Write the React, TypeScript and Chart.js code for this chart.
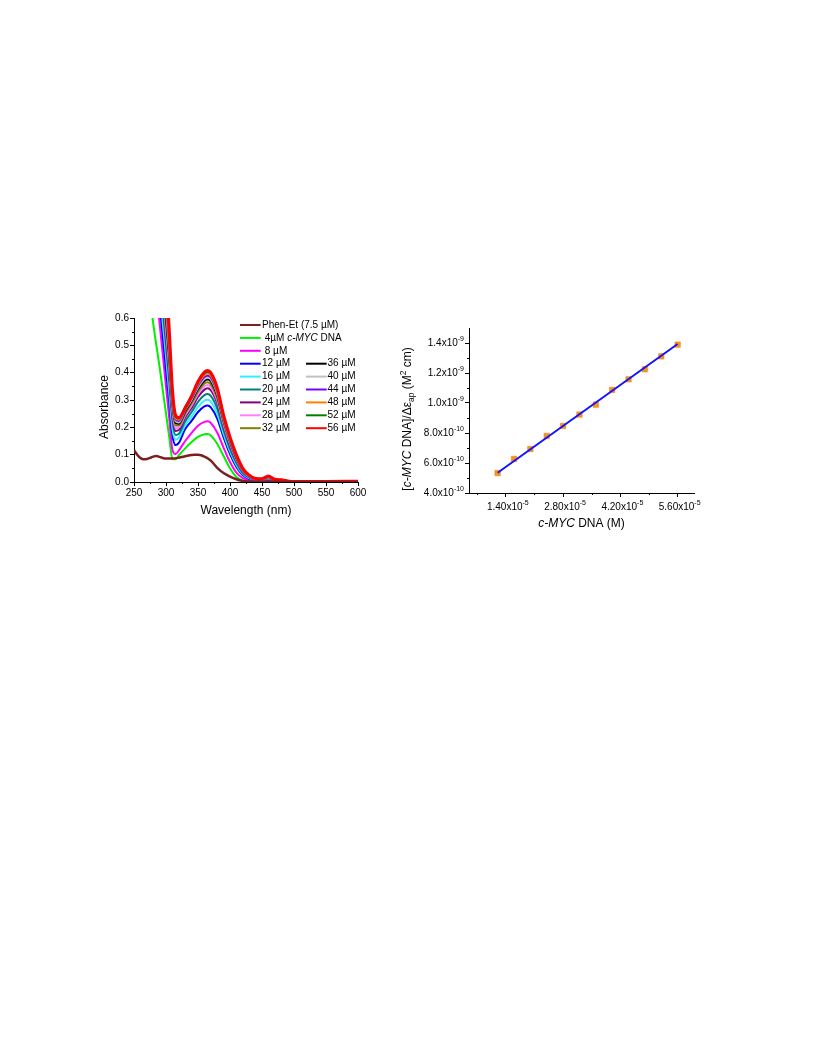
import React, { useEffect, useRef } from 'react';
import { Chart, registerables } from 'chart.js';

Chart.register(...registerables);

const FONT = '"Liberation Sans", Arial, Helvetica, sans-serif';

// ---------- Left panel: UV-Vis titration ----------
const phenWavelengths = [250, 255, 260, 265, 270, 275, 280, 285, 290, 295, 300, 310, 320, 330, 340, 345, 350, 355, 360, 365, 370, 380, 390, 400, 410, 420, 430, 450, 500, 600];
const phenAbs = [0.117, 0.1, 0.088, 0.083, 0.084, 0.088, 0.093, 0.095, 0.092, 0.088, 0.086, 0.086, 0.089, 0.094, 0.099, 0.1, 0.1, 0.098, 0.093, 0.087, 0.078, 0.052, 0.033, 0.02, 0.01, 0.004, 0.002, 0.001, 0, 0];

const dnaWavelengths = [270, 280, 290, 300, 305, 310, 315, 320, 330, 340, 350, 360, 365, 370, 380, 390, 400, 410, 420, 430, 440, 450, 460, 470, 480, 490, 500, 550, 600];
const abs4 = [0.77, 0.58, 0.42, 0.25, 0.165, 0.085, 0.083, 0.098, 0.123, 0.146, 0.165, 0.175, 0.176, 0.17, 0.14, 0.095, 0.05, 0.018, 0.005, 0.002, 0.001, 0.001, 0.002, 0, 0, 0, 0, 0, 0];
const abs8 = [1.0, 0.8, 0.58, 0.35, 0.235, 0.118, 0.102, 0.115, 0.15, 0.18, 0.206, 0.22, 0.222, 0.216, 0.181, 0.125, 0.073, 0.034, 0.014, 0.007, 0.003, 0.003, 0.006, 0.002, 0.002, 0.001, 0, 0, 0];
const abs12 = [1.2, 0.88, 0.65, 0.41, 0.295, 0.172, 0.135, 0.143, 0.194, 0.224, 0.256, 0.277, 0.28, 0.273, 0.232, 0.163, 0.102, 0.055, 0.025, 0.012, 0.006, 0.006, 0.01, 0.005, 0.004, 0.002, 0.001, 0, 0];
const abs16 = [1.25, 0.95, 0.7, 0.46, 0.33, 0.195, 0.155, 0.162, 0.208, 0.24, 0.275, 0.298, 0.301, 0.294, 0.25, 0.176, 0.112, 0.062, 0.029, 0.014, 0.007, 0.007, 0.012, 0.005, 0.004, 0.002, 0.001, 0.001, 0.001];
const abs20 = [1.3, 1.0, 0.76, 0.5, 0.37, 0.225, 0.172, 0.176, 0.222, 0.256, 0.293, 0.318, 0.322, 0.315, 0.269, 0.19, 0.122, 0.07, 0.033, 0.016, 0.008, 0.008, 0.014, 0.006, 0.005, 0.003, 0.001, 0.001, 0.001];
const abs24 = [1.35, 1.05, 0.79, 0.53, 0.4, 0.245, 0.187, 0.19, 0.236, 0.271, 0.311, 0.338, 0.343, 0.336, 0.288, 0.203, 0.133, 0.077, 0.037, 0.018, 0.009, 0.009, 0.015, 0.007, 0.006, 0.003, 0.001, 0.001, 0.001];
const abs28 = [1.38, 1.08, 0.81, 0.55, 0.42, 0.26, 0.197, 0.199, 0.244, 0.28, 0.321, 0.35, 0.355, 0.347, 0.298, 0.21, 0.139, 0.081, 0.04, 0.02, 0.01, 0.009, 0.016, 0.008, 0.006, 0.003, 0.002, 0.001, 0.002];
const abs32 = [1.4, 1.1, 0.84, 0.575, 0.44, 0.275, 0.207, 0.207, 0.251, 0.288, 0.33, 0.36, 0.365, 0.357, 0.307, 0.217, 0.144, 0.085, 0.042, 0.021, 0.011, 0.01, 0.017, 0.008, 0.007, 0.003, 0.002, 0.001, 0.002];
const abs36 = [1.42, 1.12, 0.86, 0.6, 0.46, 0.29, 0.215, 0.213, 0.258, 0.296, 0.34, 0.37, 0.375, 0.368, 0.316, 0.224, 0.149, 0.088, 0.044, 0.022, 0.011, 0.01, 0.018, 0.009, 0.007, 0.003, 0.002, 0.002, 0.002];
const abs40 = [1.45, 1.15, 0.88, 0.63, 0.48, 0.3, 0.222, 0.218, 0.263, 0.301, 0.346, 0.377, 0.382, 0.375, 0.322, 0.228, 0.152, 0.091, 0.045, 0.022, 0.012, 0.011, 0.019, 0.009, 0.007, 0.004, 0.002, 0.002, 0.002];
const abs44 = [1.48, 1.18, 0.9, 0.66, 0.5, 0.31, 0.228, 0.223, 0.267, 0.306, 0.352, 0.384, 0.389, 0.382, 0.329, 0.233, 0.156, 0.093, 0.046, 0.023, 0.012, 0.011, 0.019, 0.009, 0.007, 0.004, 0.002, 0.002, 0.002];
const abs48 = [1.5, 1.2, 0.92, 0.68, 0.52, 0.32, 0.233, 0.228, 0.272, 0.311, 0.358, 0.391, 0.396, 0.389, 0.335, 0.238, 0.159, 0.096, 0.048, 0.024, 0.012, 0.011, 0.02, 0.01, 0.008, 0.004, 0.002, 0.002, 0.003];
const abs52 = [1.52, 1.22, 0.94, 0.7, 0.535, 0.33, 0.238, 0.232, 0.276, 0.315, 0.363, 0.397, 0.402, 0.395, 0.34, 0.241, 0.162, 0.098, 0.049, 0.024, 0.013, 0.012, 0.021, 0.01, 0.008, 0.004, 0.002, 0.002, 0.003];
const abs56 = [1.55, 1.25, 0.98, 0.75, 0.56, 0.34, 0.245, 0.236, 0.27, 0.315, 0.368, 0.402, 0.408, 0.4, 0.345, 0.245, 0.165, 0.1, 0.05, 0.025, 0.013, 0.012, 0.022, 0.01, 0.008, 0.004, 0.002, 0.002, 0.003];

const dnaSeries = [abs4, abs8, abs12, abs16, abs20, abs24, abs28, abs32, abs36, abs40, abs44, abs48, abs52, abs56];
const seriesLabels = ['Phen-Et (7.5 µM)', ' 4µM c-MYC DNA', ' 8 µM', '12 µM', '16 µM', '20 µM', '24 µM', '28 µM', '32 µM', '36 µM', '40 µM', '44 µM', '48 µM', '52 µM', '56 µM'];
const seriesColors = ['#7d1f1f', '#00f000', '#ff00ff', '#0000ff', '#30f0ff', '#008080', '#800080', '#ff80ff', '#808000', '#000000', '#c0c0c0', '#8000ff', '#ff8000', '#008000', '#ff0000'];

const leftXTicks = [250, 300, 350, 400, 450, 500, 550, 600];
const leftXMinor = [275, 325, 375, 425, 475, 525, 575];
const leftYTicks = [0, 0.1, 0.2, 0.3, 0.4, 0.5, 0.6];
const leftYMinor = [0.05, 0.15, 0.25, 0.35, 0.45, 0.55];

// ---------- Right panel: binding plot ----------
const dnaConc = [1.2e-5, 1.6e-5, 2.0e-5, 2.4e-5, 2.8e-5, 3.2e-5, 3.6e-5, 4.0e-5, 4.4e-5, 4.8e-5, 5.2e-5, 5.6e-5];
const ratioValues = [5.33e-10, 6.27e-10, 6.93e-10, 7.8e-10, 8.47e-10, 9.23e-10, 9.89e-10, 10.87e-10, 11.58e-10, 12.25e-10, 13.11e-10, 13.89e-10];
const fitConc = [1.2e-5, 5.6e-5];
const fitValues = [5.35e-10, 13.93e-10];

const rightXTicks = [1.4e-5, 2.8e-5, 4.2e-5, 5.6e-5];
const rightXTickMantissa = ['1.40', '2.80', '4.20', '5.60'];
const rightXTickExponent = ['-5', '-5', '-5', '-5'];
const rightXMinor = [0.7e-5, 2.1e-5, 3.5e-5, 4.9e-5];
const rightYTicks = [4e-10, 6e-10, 8e-10, 1.0e-9, 1.2e-9, 1.4e-9];
const rightYTickMantissa = ['4.0', '6.0', '8.0', '1.0', '1.2', '1.4'];
const rightYTickExponent = ['-10', '-10', '-10', '-9', '-9', '-9'];
const rightYMinor = [5e-10, 7e-10, 9e-10, 1.1e-9, 1.3e-9];

// ---------- helpers ----------
type Seg = { t: string; i?: boolean; sub?: boolean; sup?: boolean };

function segFont(s: Seg, size: number) {
  const sz = s.sub || s.sup ? size * 0.7 : size;
  return `${s.i ? 'italic ' : ''}${sz}px ${FONT}`;
}

function drawRich(ctx: CanvasRenderingContext2D, segs: Seg[], x: number, y: number, size: number, align: 'left' | 'center' | 'right', rot = 0) {
  ctx.save();
  ctx.translate(x, y);
  ctx.rotate(rot);
  ctx.fillStyle = '#000';
  ctx.textBaseline = 'middle';
  ctx.textAlign = 'left';
  let w = 0;
  segs.forEach((s) => {
    ctx.font = segFont(s, size);
    w += ctx.measureText(s.t).width;
  });
  let cx = align === 'center' ? -w / 2 : align === 'right' ? -w : 0;
  segs.forEach((s) => {
    ctx.font = segFont(s, size);
    const dy = s.sub ? size * 0.3 : s.sup ? -size * 0.4 : 0;
    ctx.fillText(s.t, cx, dy);
    cx += ctx.measureText(s.t).width;
  });
  ctx.restore();
}

function italicize(label: string): Seg[] {
  const key = 'c-MYC';
  const idx = label.indexOf(key);
  if (idx < 0) return [{ t: label }];
  return [{ t: label.slice(0, idx) }, { t: key, i: true }, { t: label.slice(idx + key.length) }];
}

function drawMinor(chart: any, axisId: string, values: number[], len: number) {
  const s = chart.scales[axisId];
  const ctx = chart.ctx as CanvasRenderingContext2D;
  const ca = chart.chartArea;
  ctx.save();
  ctx.strokeStyle = '#000';
  ctx.lineWidth = 1;
  values.forEach((v) => {
    const p = Math.round(s.getPixelForValue(v)) + 0.5;
    ctx.beginPath();
    if (s.isHorizontal()) {
      ctx.moveTo(p, ca.bottom);
      ctx.lineTo(p, ca.bottom + len);
    } else {
      ctx.moveTo(ca.left, p);
      ctx.lineTo(ca.left - len, p);
    }
    ctx.stroke();
  });
  ctx.restore();
}

const tickFont = { family: FONT, size: 10 };
const axisCommon = {
  grid: { display: true, drawOnChartArea: false, drawTicks: true, tickLength: 4, color: '#000' },
  border: { display: true, color: '#000', width: 1 },
};

function LeftChart() {
  const ref = useRef<HTMLCanvasElement>(null);
  useEffect(() => {
    if (!ref.current) return;
    const datasets: any[] = [
      {
        label: seriesLabels[0],
        data: phenWavelengths.map((x, i) => ({ x, y: phenAbs[i] })),
        borderColor: seriesColors[0],
        borderWidth: 2.5,
        order: -100,
      },
      ...dnaSeries.map((arr, k) => ({
        label: seriesLabels[k + 1],
        data: dnaWavelengths.map((x, i) => ({ x, y: arr[i] })),
        borderColor: seriesColors[k + 1],
        borderWidth: k === dnaSeries.length - 1 ? 3 : 2,
        order: -k - 1,
      })),
    ];
    const plugin = {
      id: 'leftDecor',
      afterDraw(chart: any) {
        const ctx = chart.ctx as CanvasRenderingContext2D;
        const ca = chart.chartArea;
        drawMinor(chart, 'x', leftXMinor, 2);
        drawMinor(chart, 'y', leftYMinor, 2);
        drawRich(ctx, [{ t: 'Wavelength (nm)' }], (ca.left + ca.right) / 2, ca.bottom + 29, 12, 'center');
        drawRich(ctx, [{ t: 'Absorbance' }], ca.left - 29, (ca.top + ca.bottom) / 2 + 7, 12, 'center', -Math.PI / 2);
        // legend
        const rowH = 12.9;
        const y0 = ca.top + 7;
        seriesLabels.forEach((lab, i) => {
          let col = 0;
          let row = i;
          if (i >= 9) {
            col = 1;
            row = i - 6;
          }
          const lx = col === 0 ? ca.left + 106 : ca.left + 172;
          const tx = col === 0 ? ca.left + 128 : ca.left + 193.5;
          const y = y0 + row * rowH;
          ctx.save();
          ctx.strokeStyle = seriesColors[i];
          ctx.lineWidth = 2;
          ctx.beginPath();
          ctx.moveTo(lx, y);
          ctx.lineTo(lx + 20.7, y);
          ctx.stroke();
          ctx.restore();
          drawRich(ctx, italicize(lab), tx, y, 10, 'left');
        });
      },
    };
    const chart = new Chart(ref.current, {
      type: 'line',
      data: { datasets },
      options: {
        animation: false,
        responsive: false,
        maintainAspectRatio: false,
        layout: { padding: { left: 0, top: 18, right: 22, bottom: 0 } },
        plugins: { legend: { display: false }, tooltip: { enabled: false } },
        elements: { point: { radius: 0 }, line: { cubicInterpolationMode: 'monotone', fill: false } },
        scales: {
          x: {
            type: 'linear',
            min: 250,
            max: 600,
            afterFit: (s: any) => {
              s.height = 53;
            },
            afterBuildTicks: (s: any) => {
              s.ticks = leftXTicks.map((v) => ({ value: v }));
            },
            ticks: { font: tickFont, color: '#000', padding: 1, maxRotation: 0, autoSkip: false, callback: (v: any) => String(v) },
            ...axisCommon,
          },
          y: {
            type: 'linear',
            min: 0,
            max: 0.6,
            afterFit: (s: any) => {
              s.width = 44;
            },
            afterBuildTicks: (s: any) => {
              s.ticks = leftYTicks.map((v) => ({ value: v }));
            },
            ticks: { font: tickFont, color: '#000', padding: 1, autoSkip: false, callback: (v: any) => Number(v).toFixed(1) },
            ...axisCommon,
          },
        },
      } as any,
      plugins: [plugin],
    });
    return () => chart.destroy();
  }, []);
  return <canvas ref={ref} width={290} height={235} style={{ position: 'absolute', left: 82, top: 292, width: 290, height: 235 }} />;
}

function RightChart() {
  const ref = useRef<HTMLCanvasElement>(null);
  useEffect(() => {
    if (!ref.current) return;
    const plugin = {
      id: 'rightDecor',
      afterDraw(chart: any) {
        const ctx = chart.ctx as CanvasRenderingContext2D;
        const ca = chart.chartArea;
        const sx = chart.scales.x;
        const sy = chart.scales.y;
        drawMinor(chart, 'x', rightXMinor, 2);
        drawMinor(chart, 'y', rightYMinor, 2);
        // tick labels with real superscripts
        rightXTicks.forEach((v, i) => {
          drawRich(ctx, [{ t: rightXTickMantissa[i] + 'x10' }, { t: rightXTickExponent[i], sup: true }], sx.getPixelForValue(v) + 2, ca.bottom + 14, 10, 'center');
        });
        rightYTicks.forEach((v, i) => {
          drawRich(ctx, [{ t: rightYTickMantissa[i] + 'x10' }, { t: rightYTickExponent[i], sup: true }], ca.left - 5, sy.getPixelForValue(v), 10, 'right');
        });
        drawRich(ctx, [{ t: 'c-MYC', i: true }, { t: ' DNA (M)' }], (ca.left + ca.right) / 2, ca.bottom + 31, 12, 'center');
        drawRich(
          ctx,
          [{ t: '[' }, { t: 'c-MYC', i: true }, { t: ' DNA]/Δε' }, { t: 'ap', sub: true }, { t: ' (M' }, { t: '2', sup: true }, { t: ' cm)' }],
          ca.left - 61,
          (ca.top + ca.bottom) / 2 + 8.5,
          12,
          'center',
          -Math.PI / 2
        );
      },
    };
    const chart = new Chart(ref.current, {
      type: 'scatter',
      data: {
        datasets: [
          {
            label: 'fit',
            data: fitConc.map((x, i) => ({ x, y: fitValues[i] })),
            showLine: true,
            borderColor: '#1414ff',
            borderWidth: 2,
            pointRadius: 0,
          },
          {
            label: 'data',
            data: dnaConc.map((x, i) => ({ x, y: ratioValues[i] })),
            pointStyle: 'rect',
            pointRadius: 3.9,
            backgroundColor: '#f7931e',
            borderColor: '#f08015',
            borderWidth: 0.5,
            showLine: false,
          },
        ],
      },
      options: {
        animation: false,
        responsive: false,
        maintainAspectRatio: false,
        layout: { padding: { left: 0, top: 28, right: 21, bottom: 0 } },
        plugins: { legend: { display: false }, tooltip: { enabled: false } },
        scales: {
          x: {
            type: 'linear',
            min: 0.5e-5,
            max: 6.0e-5,
            afterFit: (s: any) => {
              s.height = 47;
            },
            afterBuildTicks: (s: any) => {
              s.ticks = rightXTicks.map((v) => ({ value: v }));
            },
            ticks: { display: false },
            ...axisCommon,
          },
          y: {
            type: 'linear',
            min: 4e-10,
            max: 1.5e-9,
            afterFit: (s: any) => {
              s.width = 74;
            },
            afterBuildTicks: (s: any) => {
              s.ticks = rightYTicks.map((v) => ({ value: v }));
            },
            ticks: { display: false },
            ...axisCommon,
          },
        },
      } as any,
      plugins: [plugin],
    });
    return () => chart.destroy();
  }, []);
  return <canvas ref={ref} width={320} height={240} style={{ position: 'absolute', left: 387, top: 292, width: 320, height: 240 }} />;
}

export default function App() {
  return (
    <div style={{ position: 'relative', width: 800, height: 1040, background: '#fff' }}>
      <LeftChart />
      <RightChart />
    </div>
  );
}
